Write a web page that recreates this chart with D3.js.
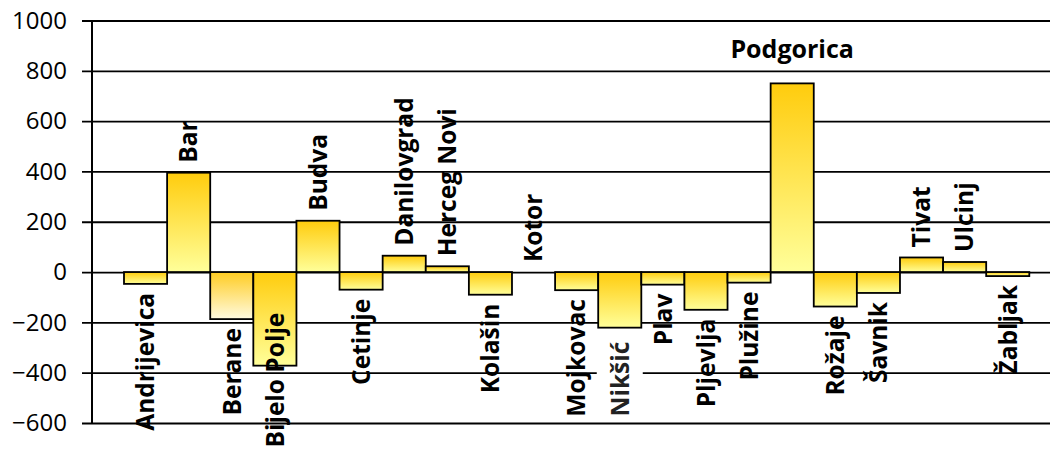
<!DOCTYPE html>
<html>
<head>
<meta charset="utf-8">
<script src="https://cdn.jsdelivr.net/npm/d3@7"></script>
<style>
  html, body { margin: 0; padding: 0; background: #fff; }
  svg { display: block; }
</style>
</head>
<body>
<svg id="chart" width="1050" height="453"></svg>
<script>
const categories = ["Andrijevica","Bar","Berane","Bijelo Polje","Budva","Cetinje","Danilovgrad","Herceg Novi","Kolašin","Kotor","Mojkovac","Nikšić","Plav","Pljevlja","Plužine","Podgorica","Rožaje","Šavnik","Tivat","Ulcinj","Žabljak"];
const values = [-47, 395, -187, -372, 204, -70, 65, 23, -90, 0, -72, -221, -50, -150, -42, 750, -137, -83, 58, 40, -16];
const yTicks = [-600, -400, -200, 0, 200, 400, 600, 800, 1000];

const svg = d3.select("#chart");
const W = 1050, H = 453;

const y = d3.scaleLinear().domain([-600, 1000]).range([423, 20.5]);
const x = d3.scaleBand().domain(categories).range([124, 1029.3]).paddingInner(0).paddingOuter(0);

const defs = svg.append("defs");
const gradStd = defs.append("linearGradient").attr("id", "gStd").attr("x1", 0).attr("y1", 0).attr("x2", 0).attr("y2", 1);
gradStd.append("stop").attr("offset", "0%").attr("stop-color", "#FFCC0D");
gradStd.append("stop").attr("offset", "100%").attr("stop-color", "#FFFF9A");
const gradPale = defs.append("linearGradient").attr("id", "gPale").attr("x1", 0).attr("y1", 0).attr("x2", 0).attr("y2", 1);
gradPale.append("stop").attr("offset", "0%").attr("stop-color", "#FFCC22");
gradPale.append("stop").attr("offset", "100%").attr("stop-color", "#FFFBE0");

// gridlines + ticks
const yAxis = d3.axisLeft(y).tickValues(yTicks).tickSize(10).tickPadding(14).tickFormat(d3.format("d"));
const gAxis = svg.append("g").attr("transform", "translate(92,0)").call(yAxis);
gAxis.select(".domain").remove();
gAxis.selectAll(".tick line").attr("x1", -10).attr("x2", W - 92).attr("stroke", "#000").attr("stroke-width", 1.8);
gAxis.selectAll(".tick text")
  .attr("font-family", "'Open Sans', sans-serif")
  .attr("font-size", 24)
  .attr("fill", "#000")
  .attr("x", -25);

// axis line
svg.append("line").attr("x1", 92).attr("x2", 92).attr("y1", y(1000)).attr("y2", y(-600))
  .attr("stroke", "#000").attr("stroke-width", 2);

const data = categories.map((c, i) => ({ c, v: values[i] }));

// bars
svg.append("g").selectAll("rect").data(data.filter(d => d.v !== 0)).join("rect")
  .attr("x", d => x(d.c))
  .attr("width", x.bandwidth())
  .attr("y", d => y(Math.max(0, d.v)))
  .attr("height", d => Math.abs(y(d.v) - y(0)))
  .attr("fill", d => d.c === "Berane" ? "url(#gPale)" : "url(#gStd)")
  .attr("stroke", "#000")
  .attr("stroke-width", 1.8);

// labels
const labelG = svg.append("g")
  .attr("font-family", "'Open Sans', sans-serif")
  .attr("font-weight", "bold")
  .attr("font-size", 24.5)
  .attr("fill", "#000");

const nudge = { "Bijelo Polje": -62, "Nikšić": 5 };

data.forEach(d => {
  const cx = x(d.c) + x.bandwidth() / 2;
  if (d.c === "Podgorica") {
    labelG.append("text").attr("x", cx).attr("y", y(d.v) - 25)
      .attr("text-anchor", "middle").attr("font-size", 25).text(d.c);
    return;
  }
  const pos = d.v >= 0;
  const yy = pos ? y(d.v) - 10 : y(d.v) + 9 + (nudge[d.c] || 0);
  const g = labelG.append("g").attr("transform", `translate(${cx},${yy}) rotate(-90)`);
  if (d.c === "Nikšić") {
    g.append("rect").attr("x", -80).attr("y", -23).attr("width", 80).attr("height", 46).attr("fill", "#fff");
  }
  g.append("text")
    .attr("text-anchor", pos ? "start" : "end")
    .attr("dy", "0.36em")
    .attr("fill", d.c === "Nikšić" ? "#222" : "#000")
    .text(d.c);
});
</script>
</body>
</html>
